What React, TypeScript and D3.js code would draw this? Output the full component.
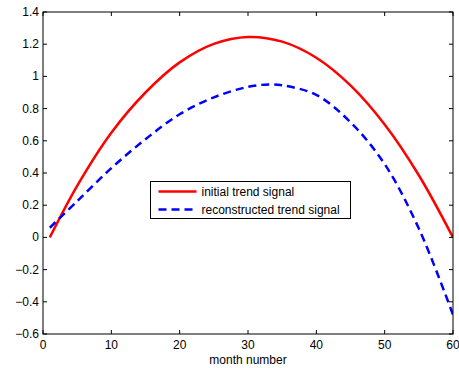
import * as d3 from 'd3';

// values
const months = [1, 5, 10, 15, 20, 25, 30, 35, 40, 45, 50, 55, 60];
const initialTrend = [0, 0.32, 0.65, 0.9, 1.087, 1.202, 1.245, 1.216, 1.116, 0.944, 0.701, 0.386, 0];
const reconMonths = [1, 5, 10, 15, 20, 25, 30, 33, 35, 40, 45, 50, 55, 60];
const reconstructedTrend = [0.06, 0.225, 0.43, 0.61, 0.765, 0.87, 0.935, 0.95, 0.945, 0.885, 0.715, 0.455, 0.055, -0.48];
const xTicks = [0, 10, 20, 30, 40, 50, 60];
const yTicks = [-0.6, -0.4, -0.2, 0, 0.2, 0.4, 0.6, 0.8, 1, 1.2, 1.4];
const seriesNames = ['initial trend signal', 'reconstructed trend signal'];

const W = 459;
const H = 368;
const margin = { left: 43, right: 6, top: 12, bottom: 34 };
const font = '"Liberation Sans", Arial, Helvetica, sans-serif';

const fmt = (v: number) => (v < 0 ? '\u2212' + String(-v) : String(v));

export default function App() {
  const x = d3.scaleLinear().domain([0, 60]).range([margin.left, W - margin.right]);
  const y = d3.scaleLinear().domain([-0.6, 1.4]).range([H - margin.bottom, margin.top]);

  const line = d3
    .line<[number, number]>()
    .x((d) => x(d[0]))
    .y((d) => y(d[1]))
    .curve(d3.curveCatmullRom.alpha(0.5));

  const redPath = line(months.map((m, i) => [m, initialTrend[i]] as [number, number])) || '';
  const bluePath = line(reconMonths.map((m, i) => [m, reconstructedTrend[i]] as [number, number])) || '';

  const x0 = x(0), x1 = x(60), y0 = y(-0.6), y1 = y(1.4);
  const tl = 4;

  const lg = { x: 150.5, y: 181.5, w: 200, h: 37 };

  return (
    <svg width={W} height={H} style={{ position: 'absolute', left: 0, top: 0, background: '#fff' }}>
      <rect x={0} y={0} width={W} height={H} fill="#fff" />
      <defs>
        <clipPath id="plot">
          <rect x={x0} y={y1} width={x1 - x0} height={y0 - y1} />
        </clipPath>
      </defs>

      {/* curves */}
      <g clipPath="url(#plot)">
        <path d={redPath} fill="none" stroke="#ff0000" strokeWidth={2.5} />
        <path d={bluePath} fill="none" stroke="#0000ff" strokeWidth={2.5} strokeDasharray="8,5" />
      </g>

      {/* box */}
      <rect x={x0} y={y1} width={x1 - x0} height={y0 - y1} fill="none" stroke="#000" strokeWidth={1} />

      {/* x ticks */}
      {xTicks.map((t) => (
        <g key={'x' + t}>
          <line x1={x(t)} x2={x(t)} y1={y0} y2={y0 - tl} stroke="#000" />
          <line x1={x(t)} x2={x(t)} y1={y1} y2={y1 + tl} stroke="#000" />
          <text x={x(t)} y={y0 + 15} textAnchor="middle" fontFamily={font} fontSize={12} fill="#000">
            {fmt(t)}
          </text>
        </g>
      ))}

      {/* y ticks */}
      {yTicks.map((t) => (
        <g key={'y' + t}>
          <line x1={x0} x2={x0 + tl} y1={y(t)} y2={y(t)} stroke="#000" />
          <line x1={x1} x2={x1 - tl} y1={y(t)} y2={y(t)} stroke="#000" />
          <text x={x0 - 4} y={y(t) + 4} textAnchor="end" fontFamily={font} fontSize={12} fill="#000">
            {fmt(t)}
          </text>
        </g>
      ))}

      <text x={(x0 + x1) / 2} y={364} textAnchor="middle" fontFamily={font} fontSize={12} fill="#000">
        month number
      </text>

      {/* legend */}
      <rect x={lg.x} y={lg.y} width={lg.w} height={lg.h} fill="#fff" stroke="#000" strokeWidth={1} />
      <line x1={lg.x + 8} x2={lg.x + 46} y1={lg.y + 10} y2={lg.y + 10} stroke="#ff0000" strokeWidth={2.5} />
      <line x1={lg.x + 8} x2={lg.x + 46} y1={lg.y + 28} y2={lg.y + 28} stroke="#0000ff" strokeWidth={2.5} strokeDasharray="8,5" />
      <text x={lg.x + 51} y={lg.y + 14.5} fontFamily={font} fontSize={12} fill="#000">
        {seriesNames[0]}
      </text>
      <text x={lg.x + 51} y={lg.y + 32.5} fontFamily={font} fontSize={12} fill="#000">
        {seriesNames[1]}
      </text>
    </svg>
  );
}
